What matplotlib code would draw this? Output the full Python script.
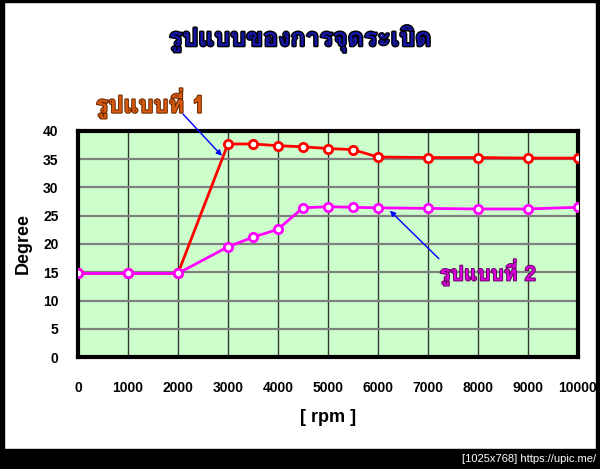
import matplotlib
matplotlib.use("Agg")
import matplotlib.pyplot as plt
import matplotlib.patheffects as pe
from matplotlib import font_manager
from matplotlib.ft2font import FT2Font

# data
rpm = [0, 1000, 2000, 3000, 3500, 4000, 4500, 5000, 5500, 6000, 7000, 8000, 9000, 10000]
pattern1 = [14.8, 14.8, 14.8, 37.7, 37.7, 37.4, 37.2, 36.9, 36.7, 35.4, 35.3, 35.3, 35.2, 35.2]
pattern2 = [14.8, 14.8, 14.8, 19.5, 21.2, 22.6, 26.4, 26.6, 26.5, 26.4, 26.3, 26.2, 26.2, 26.5]
xticks = [0, 1000, 2000, 3000, 4000, 5000, 6000, 7000, 8000, 9000, 10000]
yticks = [0, 5, 10, 15, 20, 25, 30, 35, 40]

title = "รูปแบบของการจุดระเบิด"
label1 = "รูปแบบที่ 1"
label2 = "รูปแบบที่ 2"


# look for an installed font that has Thai glyphs
def find_thai_font():
    for f in font_manager.fontManager.ttflist:
        try:
            cmap = FT2Font(f.fname).get_charmap()
        except Exception:
            continue
        if ord("ร") in cmap and ord("บ") in cmap:
            return f.name
    return None


thai = find_thai_font()
thai_family = [thai, "DejaVu Sans"] if thai else ["DejaVu Sans"]

plt.rcParams["font.family"] = ["Liberation Sans", "DejaVu Sans"]
plt.rcParams["font.weight"] = "bold"

fig = plt.figure(figsize=(6, 4.69), dpi=100)
ax = fig.add_axes([0.13, 0.2388, 0.833, 0.4819])
ax.set_facecolor("#ccffcc")

ax.plot(rpm, pattern1, color="red", lw=2, marker="o", ms=6, mfc="white",
        mec="red", mew=2, zorder=3)
ax.plot(rpm, pattern2, color="#ff00ff", lw=2, marker="o", ms=6, mfc="white",
        mec="#ff00ff", mew=2, zorder=4)

ax.set_xlim(0, 10000)
ax.set_ylim(0, 40)
ax.set_xticks(xticks)
ax.set_yticks(yticks)
ax.tick_params(axis="both", length=0, labelsize=10)
ax.tick_params(axis="x", pad=17)
ax.tick_params(axis="y", pad=14)
for lab in ax.get_xticklabels() + ax.get_yticklabels():
    lab.set_fontweight("bold")

ax.xaxis.grid(True, color="#333333", lw=1)
ax.yaxis.grid(True, color="#808080", lw=1.6)
ax.set_axisbelow(True)
for s in ax.spines.values():
    s.set_linewidth(3)
    s.set_color("black")

ax.set_ylabel("Degree", fontsize=13, fontweight="bold", labelpad=8)
ax.set_xlabel("[ rpm ]", fontsize=13, fontweight="bold", labelpad=10)

# series labels and pointer arrows
ax.text(1450, 44.9, label1, ha="center", va="center", fontsize=17,
        color="#d85a10", family=thai_family, fontweight="bold", clip_on=False,
        path_effects=[pe.withStroke(linewidth=1.5, foreground="#6a2a00")])
ax.annotate("", xy=(2880, 35.6), xytext=(2100, 43.0), annotation_clip=False,
            arrowprops=dict(arrowstyle="-|>", color="blue", lw=1,
                            mutation_scale=8, shrinkA=0, shrinkB=0))
ax.text(8200, 15.0, label2, ha="center", va="center", fontsize=15,
        color="#dd00dd", family=thai_family, fontweight="bold",
        path_effects=[pe.withStroke(linewidth=1.2, foreground="#550055")])
ax.annotate("", xy=(6240, 25.9), xytext=(7220, 17.4),
            arrowprops=dict(arrowstyle="-|>", color="blue", lw=1,
                            mutation_scale=8, shrinkA=0, shrinkB=0))

fig.text(0.5, 0.918, title, ha="center", va="center", fontsize=18,
         color="#1515a8", family=thai_family, fontweight="bold",
         path_effects=[pe.withStroke(linewidth=2, foreground="black")])

# black frame around the picture
fig.patches.append(plt.Rectangle((0, 0), 0.006, 1, transform=fig.transFigure,
                                 color="black", zorder=0))
fig.patches.append(plt.Rectangle((0, 0.995), 1, 0.005, transform=fig.transFigure,
                                 color="black", zorder=0))
fig.patches.append(plt.Rectangle((0.993, 0), 0.007, 1, transform=fig.transFigure,
                                 color="black", zorder=0))
fig.patches.append(plt.Rectangle((0, 0), 1, 0.043, transform=fig.transFigure,
                                 color="black", zorder=0))
fig.text(0.993, 0.021, "[1025x768] https://upic.me/", ha="right", va="center",
         fontsize=8, color="white", fontweight="normal")

fig.savefig("out.png", dpi=100)
